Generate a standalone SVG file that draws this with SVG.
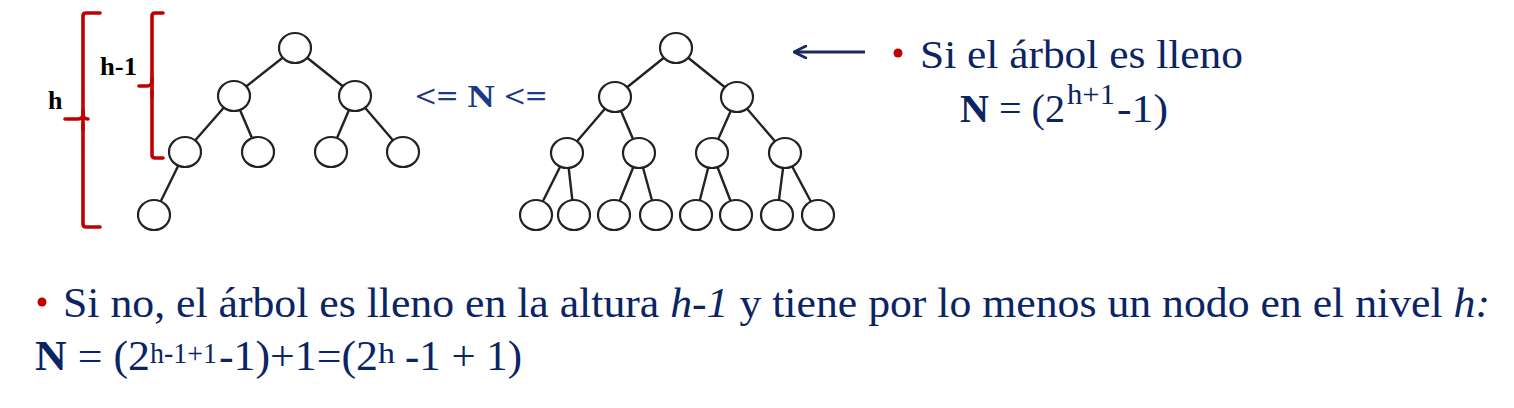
<svg xmlns="http://www.w3.org/2000/svg" width="1514" height="408" viewBox="0 0 1514 408">
<style>
.edge{stroke:#222;stroke-width:2.4;fill:none;stroke-linecap:round}
.nd{fill:#fff;stroke:#222;stroke-width:2.2}
.br{stroke:#C00000;stroke-width:3.6;fill:none;stroke-linecap:round;stroke-linejoin:round}
.lbl{font-family:'Liberation Serif',serif;font-weight:bold;font-size:26px;fill:#000}
.tx{font-family:'Liberation Serif',serif;fill:#0A2464}
.sup{font-family:'Liberation Serif',serif;fill:#0A2464;font-size:29px}
.bul{fill:#C00000}
</style>
<defs>
<marker id="ah" viewBox="0 0 14 14" refX="13" refY="7" markerWidth="14" markerHeight="14" markerUnits="userSpaceOnUse" orient="auto">
<path d="M1,1 L13,7 L1,13" fill="none" stroke="#1B2A5C" stroke-width="2.8" stroke-linecap="round" stroke-linejoin="round"/>
</marker>
</defs>
<rect width="1514" height="408" fill="#fff"/>

<g id="bracket-h">
<path class="br" d="M100,13 L86,13 Q83,13 83,16 L83,114 Q83,119 78,119 L65,119 M83,114 Q83,119 88,119 M83,124 L83,224 Q83,227 86,227 L100,227"/>
<path class="br" d="M83,110 L83,130"/>
</g>
<g id="bracket-h1">
<path class="br" d="M163,13 L155,13 Q152,13 152,16 L152,81 Q152,86 147,86 L139,86 M152,91 L152,155 Q152,158 155,158 L163,158"/>
<path class="br" d="M152,78 L152,96"/>
</g>
<text class="lbl" x="48" y="109">h</text>
<text class="lbl" x="100" y="75" textLength="37" lengthAdjust="spacingAndGlyphs">h-1</text>

<g id="connectors">
<line class="edge" x1="295" y1="48" x2="234" y2="96"/>
<line class="edge" x1="295" y1="48" x2="355" y2="96"/>
<line class="edge" x1="234" y1="96" x2="185" y2="152"/>
<line class="edge" x1="234" y1="96" x2="258" y2="152"/>
<line class="edge" x1="355" y1="96" x2="331" y2="152"/>
<line class="edge" x1="355" y1="96" x2="403" y2="152"/>
<line class="edge" x1="185" y1="152" x2="154" y2="215"/>

<line class="edge" x1="676" y1="48" x2="615" y2="97"/>
<line class="edge" x1="676" y1="48" x2="737" y2="97"/>
<line class="edge" x1="615" y1="97" x2="567" y2="153"/>
<line class="edge" x1="615" y1="97" x2="639" y2="153"/>
<line class="edge" x1="737" y1="97" x2="712" y2="153"/>
<line class="edge" x1="737" y1="97" x2="785" y2="153"/>
<line class="edge" x1="567" y1="153" x2="536" y2="215"/>
<line class="edge" x1="567" y1="153" x2="574" y2="215"/>
<line class="edge" x1="639" y1="153" x2="614" y2="215"/>
<line class="edge" x1="639" y1="153" x2="656" y2="215"/>
<line class="edge" x1="712" y1="153" x2="696" y2="215"/>
<line class="edge" x1="712" y1="153" x2="736" y2="215"/>
<line class="edge" x1="785" y1="153" x2="777" y2="215"/>
<line class="edge" x1="785" y1="153" x2="818" y2="215"/>

<line x1="865" y1="52" x2="794" y2="52" stroke="#1B2A5C" stroke-width="3.2" marker-end="url(#ah)"/>
</g>

<g id="L1"><ellipse class="nd" cx="295" cy="48" rx="16" ry="15"/></g>
<g id="L2a"><ellipse class="nd" cx="234" cy="96" rx="16" ry="15"/></g>
<g id="L2b"><ellipse class="nd" cx="355" cy="96" rx="16" ry="15"/></g>
<g id="L3a"><ellipse class="nd" cx="185" cy="152" rx="16" ry="15"/></g>
<g id="L3b"><ellipse class="nd" cx="258" cy="152" rx="16" ry="15"/></g>
<g id="L3c"><ellipse class="nd" cx="331" cy="152" rx="16" ry="15"/></g>
<g id="L3d"><ellipse class="nd" cx="403" cy="152" rx="16" ry="15"/></g>
<g id="L4a"><ellipse class="nd" cx="154" cy="215" rx="16" ry="15"/></g>

<g id="R1"><ellipse class="nd" cx="676" cy="48" rx="16" ry="15"/></g>
<g id="R2a"><ellipse class="nd" cx="615" cy="97" rx="16" ry="15"/></g>
<g id="R2b"><ellipse class="nd" cx="737" cy="97" rx="16" ry="15"/></g>
<g id="R3a"><ellipse class="nd" cx="567" cy="153" rx="16" ry="15"/></g>
<g id="R3b"><ellipse class="nd" cx="639" cy="153" rx="16" ry="15"/></g>
<g id="R3c"><ellipse class="nd" cx="712" cy="153" rx="16" ry="15"/></g>
<g id="R3d"><ellipse class="nd" cx="785" cy="153" rx="16" ry="15"/></g>
<g id="R4a"><ellipse class="nd" cx="536" cy="215" rx="16" ry="15"/></g>
<g id="R4b"><ellipse class="nd" cx="574" cy="215" rx="16" ry="15"/></g>
<g id="R4c"><ellipse class="nd" cx="614" cy="215" rx="16" ry="15"/></g>
<g id="R4d"><ellipse class="nd" cx="656" cy="215" rx="16" ry="15"/></g>
<g id="R4e"><ellipse class="nd" cx="696" cy="215" rx="16" ry="15"/></g>
<g id="R4f"><ellipse class="nd" cx="736" cy="215" rx="16" ry="15"/></g>
<g id="R4g"><ellipse class="nd" cx="777" cy="215" rx="16" ry="15"/></g>
<g id="R4h"><ellipse class="nd" cx="818" cy="215" rx="16" ry="15"/></g>

<text class="tx" x="415" y="107" font-size="32" font-weight="bold" style="fill:#1A3A86" textLength="132" lengthAdjust="spacingAndGlyphs">&lt;= N &lt;=</text>

<circle class="bul" cx="898" cy="53" r="4.5"/>
<text class="tx" x="920" y="68" font-size="41" textLength="323" lengthAdjust="spacingAndGlyphs">Si el árbol es lleno</text>
<text class="tx" x="960" y="122" font-size="41" textLength="105" lengthAdjust="spacingAndGlyphs"><tspan font-weight="bold">N</tspan> = (2</text>
<text class="sup" x="1067" y="104" textLength="48" lengthAdjust="spacingAndGlyphs">h+1</text>
<text class="tx" x="1117" y="122" font-size="41" textLength="51" lengthAdjust="spacingAndGlyphs">-1)</text>

<circle class="bul" cx="42" cy="302" r="4.5"/>
<text class="tx" x="63" y="317" font-size="42" textLength="1427" lengthAdjust="spacingAndGlyphs">Si no, el árbol es lleno en la altura <tspan font-style="italic">h-1</tspan> y tiene por lo menos un nodo en el nivel <tspan font-style="italic">h:</tspan></text>
<text class="tx" x="35" y="370" font-size="43" textLength="115" lengthAdjust="spacingAndGlyphs"><tspan font-weight="bold">N</tspan> = (2</text>
<text class="sup" x="150" y="363" textLength="67" lengthAdjust="spacingAndGlyphs">h-1+1</text>
<text class="tx" x="219" y="370" font-size="43" textLength="159" lengthAdjust="spacingAndGlyphs">-1)+1=(2</text>
<text class="sup" x="378" y="363" textLength="17" lengthAdjust="spacingAndGlyphs">h</text>
<text class="tx" x="405" y="370" font-size="43" textLength="117" lengthAdjust="spacingAndGlyphs">-1 + 1)</text>
</svg>
